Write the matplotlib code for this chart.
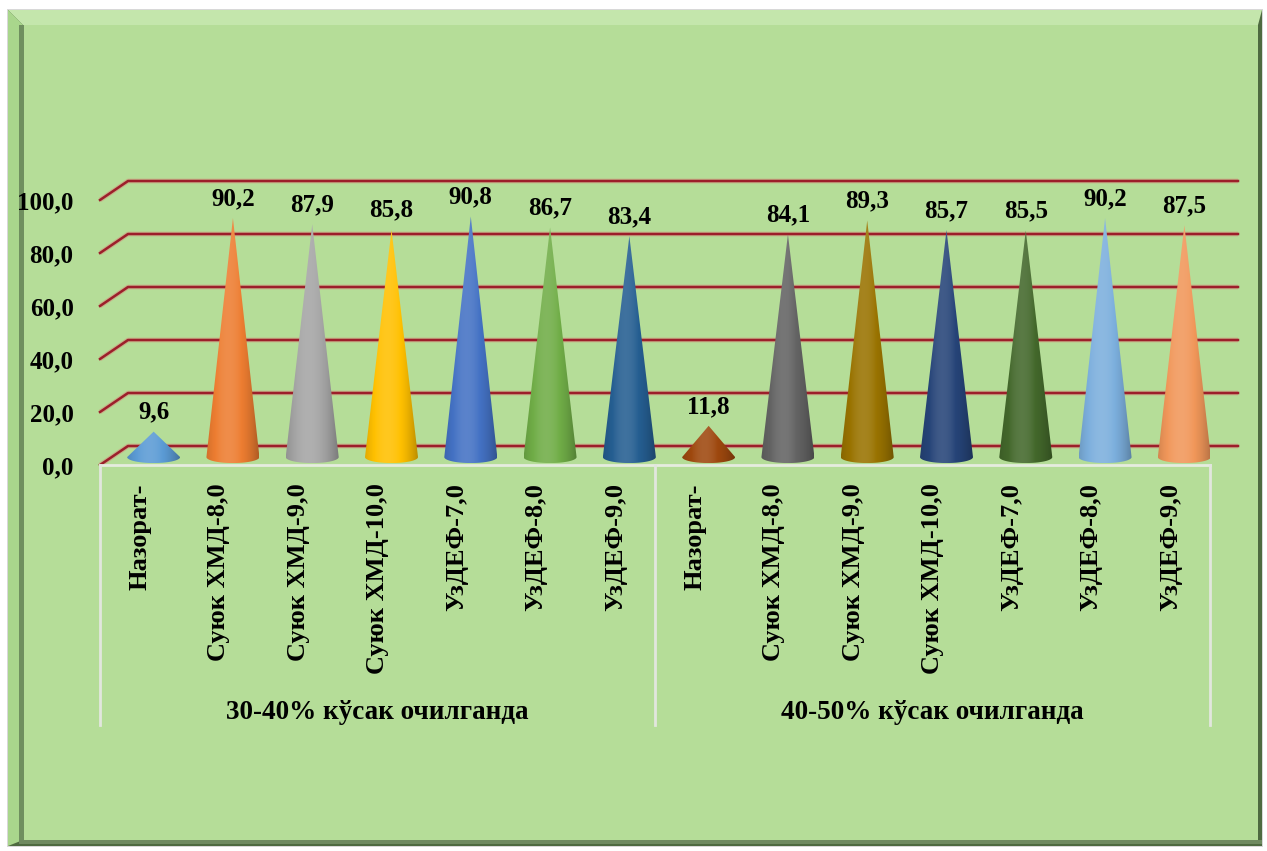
import numpy as np
import matplotlib
matplotlib.use("Agg")
import matplotlib.pyplot as plt
from matplotlib.patches import Polygon, Rectangle
from matplotlib.colors import to_rgb

plt.rcParams['font.family'] = ['Liberation Serif', 'DejaVu Serif']
plt.rcParams['font.weight'] = 'bold'

# data
categories = ["Назорат-", "Суюк ХМД-8,0", "Суюк ХМД-9,0", "Суюк ХМД-10,0",
              "УзДЕФ-7,0", "УзДЕФ-8,0", "УзДЕФ-9,0",
              "Назорат-", "Суюк ХМД-8,0", "Суюк ХМД-9,0", "Суюк ХМД-10,0",
              "УзДЕФ-7,0", "УзДЕФ-8,0", "УзДЕФ-9,0"]
values = [9.6, 90.2, 87.9, 85.8, 90.8, 86.7, 83.4,
          11.8, 84.1, 89.3, 85.7, 85.5, 90.2, 87.5]
groups = ["30-40% кўсак очилганда", "40-50% кўсак очилганда"]
yticks = [0, 20, 40, 60, 80, 100]
ytick_labels = ["0,0", "20,0", "40,0", "60,0", "80,0", "100,0"]
colors = ["#5b9bd5", "#ed7d31", "#a5a5a5", "#ffc000", "#4472c4", "#70ad47", "#255e91",
          "#9e480e", "#636363", "#997300", "#264478", "#43682b", "#7cafdd", "#f1975a"]

W, H = 1267, 851
fig = plt.figure(figsize=(W / 100, H / 100), dpi=100)
fig.patch.set_facecolor("white")

# frame / background panel
bg = fig.add_axes([0, 0, 1, 1])
bg.set_xlim(0, W)
bg.set_ylim(H, 0)
bg.axis("off")
bg.add_patch(Rectangle((7, 9), 1256, 838, facecolor="#d8d8d8", edgecolor="none"))
bg.add_patch(Rectangle((8, 10), 1254, 836, facecolor="#4e6a40", edgecolor="none"))
# light top bevel
bg.add_patch(Polygon([(8, 10), (1262, 10), (1258, 25), (23, 25)], closed=True,
                     facecolor="#c4e6ac", edgecolor="none"))
# light left bevel
bg.add_patch(Polygon([(8, 10), (23, 25), (23, 840), (8, 846)], closed=True,
                     facecolor="#a9d68c", edgecolor="none"))
bg.add_patch(Rectangle((19, 25), 5, 816, facecolor="#6f8f5f", edgecolor="none"))
bg.add_patch(Rectangle((24, 25), 1234, 815, facecolor="#b5dd98", edgecolor="none"))
bg.add_patch(Rectangle((19, 840), 1243, 4, facecolor="#6f8a60", edgecolor="none"))

# main axes: front floor from x=100 to 1210 px, value 0 at y=465 px, 100 at y=200 px
ax = fig.add_axes([100 / W, 1 - 465 / H, 1110 / W, 265 / H])
ax.patch.set_visible(False)
n = len(values)
ax.set_xlim(-0.5, n - 0.5)
ax.set_ylim(0, 100)

dxu = 28 / (1110 / n)   # depth offset in category units
dyu = 19 / 2.65         # depth offset in value units

# back wall gridlines with slanted left part
for v in yticks:
    ax.plot([-0.5, -0.5 + dxu, n - 0.5 + dxu], [v, v + dyu, v + dyu],
            color="#e07070", lw=3.4, alpha=0.4, clip_on=False, zorder=1,
            solid_capstyle="butt")
    ax.plot([-0.5, -0.5 + dxu, n - 0.5 + dxu], [v, v + dyu, v + dyu],
            color="#9c1f2a", lw=1.8, clip_on=False, zorder=1.1)

# cones
cw = 53 / (1110 / n)
ch = 4.5
t = np.linspace(-1, 1, 80)
lum = 0.74 + 0.32 * (1 - ((t + 0.15) / 1.15) ** 2)
for i, (v, c) in enumerate(zip(values, colors)):
    cx = i + dxu / 2
    base = dyu / 2 - 0.6
    th = np.linspace(np.pi, 2 * np.pi, 40)
    pts = [(cx, base + v)] + [(cx + cw / 2 * np.cos(a), base + ch / 2 * np.sin(a)) for a in th]
    poly = Polygon(pts, closed=True, facecolor="none", edgecolor="none",
                   transform=ax.transData)
    rgb = np.array(to_rgb(c))
    cols = []
    for L in lum:
        if L <= 1:
            cols.append(rgb * L)
        else:
            m = min(1, (L - 1) * 2)
            cols.append(rgb + (1 - rgb) * m)
    img = np.array(cols)[None, :, :]
    im = ax.imshow(img, extent=(cx - cw / 2, cx + cw / 2, base - ch / 2, base + v),
                   aspect="auto", interpolation="bilinear", zorder=3)
    im.set_clip_path(poly)
    ax.annotate(f"{v:.1f}".replace(".", ","), (cx, base + v), xytext=(0, 14),
                textcoords="offset points", ha="center", va="center",
                fontsize=18, fontweight="bold", zorder=5)

ax.set_xlim(-0.5, n - 0.5)
ax.set_ylim(0, 100)
ax.set_aspect("auto")

# floor line and group separators
ax.plot([-0.5, n - 0.5], [0, 0], color="#e6ecdf", lw=2, clip_on=False, zorder=2)
half = n // 2
for x in [-0.5, half - 0.5, n - 0.5]:
    ax.plot([x, x], [0, -98], color="#e2e6de", lw=2, clip_on=False, zorder=2)
for g, label in enumerate(groups):
    ax.text(g * half + (half - 1) / 2, -93.5, label, ha="center", va="center",
            fontsize=19.5, fontweight="bold", clip_on=False)

for s in ax.spines.values():
    s.set_visible(False)
ax.set_yticks(yticks)
ax.set_yticklabels(ytick_labels, fontsize=18, fontweight="bold")
ax.tick_params(axis="y", length=0, pad=19)
ax.set_xticks(range(n))
ax.set_xticklabels(categories, rotation=90, fontsize=19, fontweight="bold")
ax.tick_params(axis="x", length=0, pad=13)

fig.savefig("out.png", dpi=100, facecolor="white")
